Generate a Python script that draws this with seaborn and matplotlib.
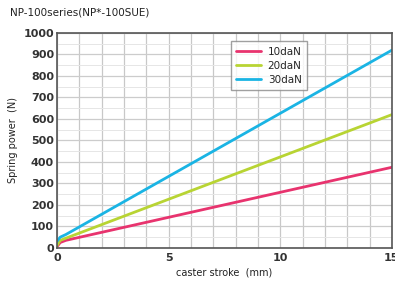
import matplotlib
matplotlib.use("Agg")
import matplotlib.pyplot as plt
from matplotlib.ticker import MultipleLocator
import pandas as pd
import seaborn as sns

# readings
stroke = [0, 0.15, 0.4, 15]
force_10 = [5, 25, 35, 375]
force_20 = [10, 35, 45, 620]
force_30 = [30, 50, 62, 920]
series = ["10daN", "20daN", "30daN"]
colors = ["#e8336e", "#b8d433", "#1ab4e4"]

df = pd.DataFrame({
    "stroke": stroke * 3,
    "force": force_10 + force_20 + force_30,
    "load": [s for s in series for _ in stroke],
})

sns.set_style("white")
plt.rcParams["font.family"] = ["DejaVu Sans"]

fig = plt.figure(figsize=(3.95, 2.82), dpi=100)
ax = fig.add_axes([0.144, 0.121, 0.848, 0.762])

sns.lineplot(data=df, x="stroke", y="force", hue="load", palette=colors,
             linewidth=2, ax=ax)

ax.set_xlim(0, 15)
ax.set_ylim(0, 1000)
ax.xaxis.set_major_locator(MultipleLocator(5))
ax.xaxis.set_minor_locator(MultipleLocator(1))
ax.yaxis.set_major_locator(MultipleLocator(100))
ax.yaxis.set_minor_locator(MultipleLocator(50))
ax.grid(which="both", axis="x", color="#c8c8c8", linewidth=0.9)
ax.grid(which="major", axis="y", color="#cccccc", linewidth=0.9)
ax.grid(which="minor", axis="y", color="#e6e6e6", linewidth=0.7)
ax.set_axisbelow(True)
ax.tick_params(axis="both", which="major", labelsize=8, colors="#333333",
               length=0)
ax.tick_params(axis="x", pad=4)
ax.tick_params(axis="y", pad=2)
ax.tick_params(which="minor", length=0)
for lbl in ax.get_xticklabels() + ax.get_yticklabels():
    lbl.set_fontweight("semibold")
for sp in ax.spines.values():
    sp.set_color("#555555")
    sp.set_linewidth(1.2)

ax.set_xlabel("caster stroke  (mm)", fontsize=7, color="#222222", labelpad=3)
ax.set_ylabel("Spring power  (N)", fontsize=7, color="#222222", labelpad=4)
fig.text(0.025, 0.945, "NP-100series(NP*-100SUE)", fontsize=7.5, color="#222222")

leg = ax.legend(loc="upper left", bbox_to_anchor=(0.505, 0.985), fontsize=7.5,
                frameon=True, fancybox=False, edgecolor="#888888",
                handlelength=2.4, handletextpad=0.6, borderpad=0.5,
                labelspacing=0.4)
leg.get_frame().set_linewidth(1.0)

fig.savefig("out.png", dpi=100)
